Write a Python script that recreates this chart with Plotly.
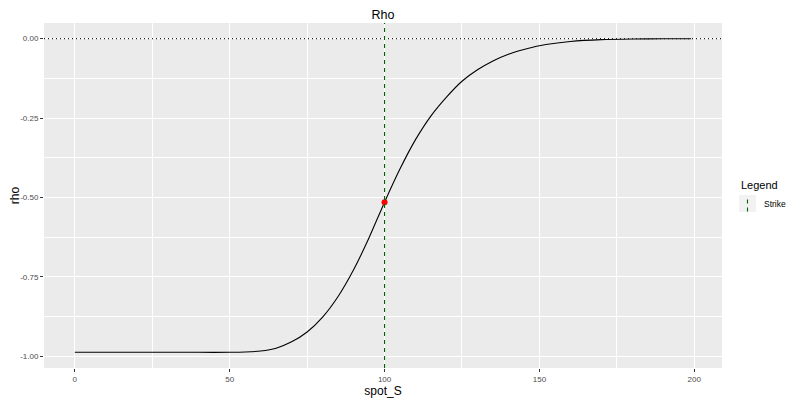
import plotly.graph_objects as go

# Data
spot_S = [0, 10, 20, 30, 40, 50, 55, 60, 65, 70, 75, 80, 85, 90, 95, 100,
          105, 110, 115, 120, 125, 130, 135, 140, 145, 150, 160, 170, 180, 190, 199]
rho = [-0.988, -0.988, -0.988, -0.988, -0.988, -0.988, -0.987, -0.984, -0.975,
       -0.955, -0.924, -0.877, -0.812, -0.728, -0.627, -0.515,
       -0.410, -0.318, -0.243, -0.184, -0.134, -0.098, -0.070, -0.049, -0.034,
       -0.022, -0.009, -0.003, -0.001, -0.0003, -0.0001]
strike = 100
strike_rho = -0.515
hline_y = 0.0

x_ticks = [0, 50, 100, 150, 200]
x_ticklabels = ["0", "50", "100", "150", "200"]
y_ticks = [0.0, -0.25, -0.5, -0.75, -1.0]
y_ticklabels = ["0.00", "-0.25", "-0.50", "-0.75", "-1.00"]

FONT = "Liberation Sans, Arial, sans-serif"

# page has an 8px body margin, so the figure is drawn 8px smaller and offset
OFF = 8
FIG_W, FIG_H = 795 - OFF, 400 - OFF

fig = go.Figure()
fig.add_trace(go.Scatter(x=spot_S, y=rho, mode="lines",
                         line=dict(color="black", width=1.1, shape="spline", smoothing=0.6),
                         showlegend=False, hoverinfo="skip"))
fig.add_trace(go.Scatter(x=[strike], y=[strike_rho], mode="markers",
                         marker=dict(color="red", size=6, line=dict(width=0)), showlegend=False))

# horizontal dotted line at 0
fig.add_shape(type="line", xref="paper", yref="y", x0=0, x1=1, y0=hline_y, y1=hline_y,
              line=dict(color="#222222", width=1.2, dash="1px,3px"), layer="above")
# vertical strike line
fig.add_shape(type="line", xref="x", yref="paper", x0=strike, x1=strike, y0=0, y1=1,
              line=dict(color="#006400", width=1.1, dash="4px,4px"))

# manual legend (vertical dashed key, as ggplot draws for geom_vline)
W, H = 678.0, 345.0
L, B = 44.0, 368.0
def px(xp):
    return (xp - L) / W
def py(yp):
    return (B - yp) / H

fig.add_shape(type="rect", xref="paper", yref="paper", x0=px(739), x1=px(756), y0=py(212), y1=py(195),
              fillcolor="#F2F2F2", line=dict(width=0))
fig.add_shape(type="line", xref="paper", yref="paper", x0=px(747.5), x1=px(747.5), y0=py(211.5), y1=py(195.5),
              line=dict(color="#006400", width=1.1, dash="4px,4px"))
fig.add_annotation(text="Legend", xref="paper", yref="paper", x=px(738.5), y=py(185), xanchor="left", yanchor="middle",
                   showarrow=False, font=dict(family=FONT, size=11, color="black"))
fig.add_annotation(text="Strike", xref="paper", yref="paper", x=px(761.5), y=py(204), xanchor="left", yanchor="middle",
                   showarrow=False, font=dict(family=FONT, size=8.5, color="black"))

fig.update_layout(
    width=FIG_W, height=FIG_H,
    margin=dict(l=44 - OFF, r=795 - 722, t=23 - OFF, b=400 - 368, autoexpand=False),
    paper_bgcolor="white", plot_bgcolor="#EBEBEB",
    font=dict(family=FONT),
    title=dict(text="Rho", x=(383 - OFF) / FIG_W, xanchor="center", xref="container",
               y=1.0 - 2.0 / FIG_H, yanchor="top", yref="container", pad=dict(t=0, b=0),
               font=dict(family=FONT, size=12.5, color="black"), automargin=False),
    showlegend=False,
)
fig.update_xaxes(range=[-9.95, 208.95], tickvals=x_ticks, ticktext=x_ticklabels, automargin=False,
                 showgrid=True, gridcolor="white", gridwidth=1.1,
                 minor=dict(showgrid=True, gridcolor="white", gridwidth=0.5, dtick=25, tick0=0),
                 ticks="outside", ticklen=3, tickcolor="#333333", tickwidth=1,
                 tickfont=dict(family=FONT, size=8, color="#4D4D4D"),
                 zeroline=False, showline=False,
                 title=dict(text="spot_S", font=dict(family=FONT, size=12, color="black"), standoff=2))
fig.update_yaxes(range=[-1.0374, 0.0494], tickvals=y_ticks, ticktext=y_ticklabels, automargin=False,
                 showgrid=True, gridcolor="white", gridwidth=1.1,
                 minor=dict(showgrid=True, gridcolor="white", gridwidth=0.5, dtick=0.125, tick0=0),
                 ticks="outside", ticklen=3, tickcolor="#333333", tickwidth=1,
                 tickfont=dict(family=FONT, size=8, color="#4D4D4D"),
                 zeroline=False, showline=False,
                 title=dict(text="rho", font=dict(family=FONT, size=12, color="black"), standoff=0))

fig.write_html("out.html")
